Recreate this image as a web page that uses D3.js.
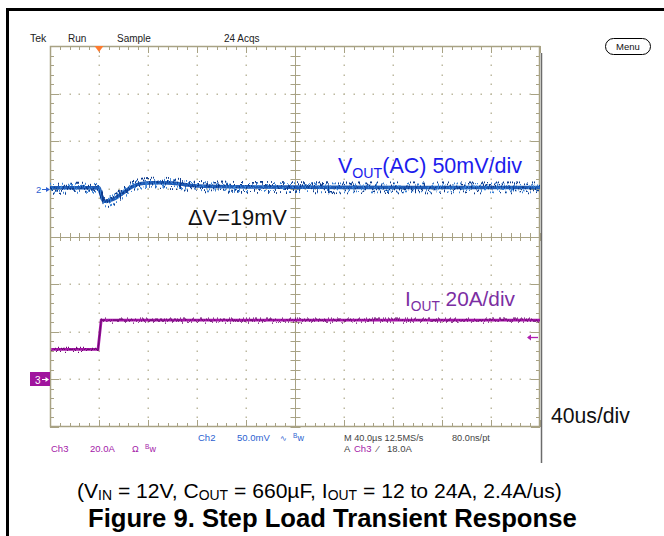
<!DOCTYPE html>
<html>
<head>
<meta charset="utf-8">
<script src="https://cdn.jsdelivr.net/npm/d3@7"></script>
<style>
  html, body { margin: 0; padding: 0; background: #fff; }
  svg { display: block; }
  text { font-family: "Liberation Sans", Arial, Helvetica, sans-serif; }
</style>
</head>
<body>
<svg id="chart" width="664" height="536"></svg>
<script>
// Channel 2: output voltage deviation (AC coupled), mV, against time in µs
const voutTimeUs = [-40, -20, 0, 1, 2.5, 4, 6, 9, 13, 17, 21, 25, 31, 38, 44, 52, 60, 70, 82, 95, 110, 130, 160, 200, 260, 320, 360];
const voutMv     = [1.2, 1.2, 1.0, -3, -9, -13, -13, -12, -10, -6.5, -3, 0.8, 4.5, 6, 6.5, 6.5, 6, 4.5, 3, 2.5, 2.2, 2, 1.8, 1.6, 1.5, 1.5, 1.5];

// Channel 3: load current, A, against time in µs
const ioutTimeUs = [-39, -0.8, 1.8, 360];
const ioutA      = [12.6, 12.6, 24.9, 24.9];

// Scope settings
const timePerDivUs = 40;
const ch2MvPerDiv = 50;
const ch3APerDiv = 20;
const triggerTimeUs = 0;
const triggerLevelA = 18;

// Readout text
const headerLabels = ["Tek", "Run", "Sample", "24 Acqs"];
const ch2Readout = ["Ch2", "50.0mV"];
const ch3Readout = ["Ch3", "20.0A"];
const timeReadout = ["M 40.0µs 12.5MS/s", "80.0ns/pt"];
const triggerReadout = ["A", "Ch3", "⁄", "18.0A"];

const svg = d3.select("#chart");
const W = 664, H = 536;
const L = 50, R = 540, T = 46, B = 427;

const gx = d3.scaleLinear([0, 10], [L, R]);
const gy = d3.scaleLinear([0, 8], [T, B]);
const x = d3.scaleLinear([-timePerDivUs, 9 * timePerDivUs], [L, R]);
const y2 = d3.scaleLinear([-5 * ch2MvPerDiv, 3 * ch2MvPerDiv], [B, T]);
const y3 = d3.scaleLinear([-1 * ch3APerDiv, 7 * ch3APerDiv], [B, T]);

const px = v => Math.round(v) + 0.5;

const frameCol = "#a8a284";
const dotCol = "#bdb9a0";

// page border
svg.append("rect").attr("x", 0).attr("y", 0).attr("width", W).attr("height", H).attr("fill", "#fff");
svg.append("line").attr("x1", 6).attr("x2", W).attr("y1", 9.5).attr("y2", 9.5)
  .attr("stroke", "#000").attr("stroke-width", 3);
svg.append("line").attr("x1", 7.5).attr("x2", 7.5).attr("y1", 8).attr("y2", H)
  .attr("stroke", "#000").attr("stroke-width", 3);

// filters giving the traces their noisy persistence look
const defs = svg.append("defs");
function noiseFilter(id, freq, seed, scale) {
  const f = defs.append("filter").attr("id", id)
    .attr("filterUnits", "userSpaceOnUse")
    .attr("x", L - 5).attr("y", T).attr("width", R - L + 10).attr("height", B - T)
    .attr("color-interpolation-filters", "sRGB");
  f.append("feTurbulence").attr("type", "fractalNoise").attr("baseFrequency", freq)
    .attr("numOctaves", 2).attr("seed", seed).attr("result", "turb");
  f.append("feColorMatrix").attr("in", "turb").attr("type", "matrix")
    .attr("values", "3 0 0 0 -1  0 0 0 0 0.5  0 0 0 0 0.5  0 0 0 0 1").attr("result", "map");
  f.append("feDisplacementMap").attr("in", "SourceGraphic").attr("in2", "map")
    .attr("scale", scale).attr("xChannelSelector", "G").attr("yChannelSelector", "R");
}
noiseFilter("noiseA", "0.7 0.03", 4, 11);
noiseFilter("noiseB", "0.9 0.05", 11, 9);
noiseFilter("noiseC", "0.6 0.04", 7, 5);

// graticule
const grat = svg.append("g");
const minor = d3.range(0, 10.001, 0.2);
const minorY = d3.range(0, 8.001, 0.2);

// dotted division lines
for (let i = 1; i < 10; i++) {
  if (i === 5) continue;
  minorY.forEach(v => {
    if (v < 0.1 || v > 7.9) return;
    grat.append("rect").attr("x", Math.round(gx(i)) - 0.5).attr("y", Math.round(gy(v)) - 0.5)
      .attr("width", 1.5).attr("height", 1.5).attr("fill", dotCol);
  });
}
for (let j = 1; j < 8; j++) {
  if (j === 4) continue;
  minor.forEach(v => {
    if (v < 0.1 || v > 9.9) return;
    grat.append("rect").attr("x", Math.round(gx(v)) - 0.5).attr("y", Math.round(gy(j)) - 0.5)
      .attr("width", 1.5).attr("height", 1.5).attr("fill", dotCol);
  });
}

// centre cross with ticks
grat.append("line").attr("x1", L).attr("x2", R).attr("y1", px(gy(4))).attr("y2", px(gy(4)))
  .attr("stroke", frameCol);
grat.append("line").attr("y1", T).attr("y2", B).attr("x1", px(gx(5))).attr("x2", px(gx(5)))
  .attr("stroke", frameCol);
minor.forEach(v => {
  grat.append("line").attr("x1", px(gx(v))).attr("x2", px(gx(v)))
    .attr("y1", gy(4) - 3.5).attr("y2", gy(4) + 4.5).attr("stroke", frameCol);
});
minorY.forEach(v => {
  grat.append("line").attr("y1", px(gy(v))).attr("y2", px(gy(v)))
    .attr("x1", gx(5) - 4.5).attr("x2", gx(5) + 5.5).attr("stroke", frameCol);
});

// edge ticks
minor.forEach(v => {
  const isMajor = Math.abs(v - Math.round(v)) < 1e-6;
  const len = isMajor ? 7 : 4;
  grat.append("line").attr("x1", px(gx(v))).attr("x2", px(gx(v)))
    .attr("y1", T).attr("y2", T + len).attr("stroke", frameCol);
  grat.append("line").attr("x1", px(gx(v))).attr("x2", px(gx(v)))
    .attr("y1", B).attr("y2", B - len).attr("stroke", frameCol);
});
minorY.forEach(v => {
  const isMajor = Math.abs(v - Math.round(v)) < 1e-6;
  const len = isMajor ? 9 : 4;
  grat.append("line").attr("y1", px(gy(v))).attr("y2", px(gy(v)))
    .attr("x1", L).attr("x2", L + len).attr("stroke", frameCol);
  grat.append("line").attr("y1", px(gy(v))).attr("y2", px(gy(v)))
    .attr("x1", R).attr("x2", R - len).attr("stroke", frameCol);
});

// frame
grat.append("rect").attr("x", L + 0.5).attr("y", T + 0.5).attr("width", R - L - 1).attr("height", B - T - 1)
  .attr("fill", "none").attr("stroke", frameCol).attr("stroke-width", 1.5);
// dark separator on the right
svg.append("line").attr("x1", R + 1.5).attr("x2", R + 1.5).attr("y1", 53).attr("y2", 463)
  .attr("stroke", "#6b6b6b").attr("stroke-width", 1.5);

// traces
const voutPts = voutTimeUs.map((t, i) => [x(t), y2(voutMv[i])]);
const ioutPts = ioutTimeUs.map((t, i) => [x(t), y3(ioutA[i])]);
const lineGen = d3.line().curve(d3.curveMonotoneX);
const stepGen = d3.line();

const traces = svg.append("g");
traces.append("path").attr("d", lineGen(voutPts)).attr("fill", "none")
  .attr("stroke", "#1f5cb6").attr("stroke-width", 3.6);
traces.append("path").attr("d", lineGen(voutPts)).attr("fill", "none")
  .attr("stroke", "#3a82d6").attr("stroke-width", 1.8).attr("filter", "url(#noiseB)");
traces.append("path").attr("d", lineGen(voutPts)).attr("fill", "none")
  .attr("stroke", "#0c3a8c").attr("stroke-width", 1.8).attr("filter", "url(#noiseA)");

traces.append("path").attr("d", stepGen(ioutPts)).attr("fill", "none")
  .attr("stroke", "#a514a8").attr("stroke-width", 2.8);
traces.append("path").attr("d", stepGen(ioutPts)).attr("fill", "none")
  .attr("stroke", "#6e0c72").attr("stroke-width", 1.2).attr("filter", "url(#noiseC)");

// trigger position marker
const tx = x(triggerTimeUs);
svg.append("path").attr("d", `M${tx - 4.5},${T} L${tx + 4.5},${T} L${tx},${T + 6} Z`)
  .attr("fill", "#ff7b2e");

// trigger level marker on the right edge
const ty = px(y3(triggerLevelA));
svg.append("line").attr("x1", R - 12).attr("x2", R - 2).attr("y1", ty).attr("y2", ty)
  .attr("stroke", "#b020b0").attr("stroke-width", 1.3);
svg.append("path").attr("d", `M${R - 13},${ty} L${R - 9},${ty - 3} L${R - 9},${ty + 3} Z`).attr("fill", "#b020b0");

// channel ground markers
const g2 = px(y2(0));
svg.append("text").attr("x", 36).attr("y", g2 + 3.5).attr("font-size", 9.5).attr("fill", "#2d5fd0").text("2");
svg.append("line").attr("x1", 42).attr("x2", 49).attr("y1", g2).attr("y2", g2).attr("stroke", "#2d5fd0");
svg.append("path").attr("d", `M${50},${g2} L${46},${g2 - 2.5} L${46},${g2 + 2.5} Z`).attr("fill", "#2d5fd0");

const g3 = px(y3(0));
svg.append("rect").attr("x", 30).attr("y", g3 - 7.5).attr("width", 20).attr("height", 14).attr("fill", "#a0149e");
svg.append("text").attr("x", 35).attr("y", g3 + 4).attr("font-size", 10).attr("fill", "#fff").text("3");
svg.append("line").attr("x1", 42).attr("x2", 48).attr("y1", g3).attr("y2", g3).attr("stroke", "#fff");
svg.append("path").attr("d", `M${49},${g3} L${45.5},${g3 - 2.5} L${45.5},${g3 + 2.5} Z`).attr("fill", "#fff");

// header readouts
const headerX = [30, 68, 117, 224];
headerLabels.forEach((s, i) => {
  svg.append("text").attr("x", headerX[i]).attr("y", 42).attr("font-size", i === 0 ? 10.5 : 10)
    .attr("fill", "#222").text(s);
});

// menu button
svg.append("rect").attr("x", 605.5).attr("y", 38.5).attr("width", 45).attr("height", 16).attr("rx", 8)
  .attr("fill", "none").attr("stroke", "#000");
svg.append("text").attr("x", 628).attr("y", 50).attr("text-anchor", "middle").attr("font-size", 9.5)
  .attr("fill", "#111").text("Menu");

// bottom readouts
function small(xp, yp, s, col, size) {
  return svg.append("text").attr("x", xp).attr("y", yp).attr("font-size", size || 9.5).attr("fill", col).text(s);
}
const blue = "#2d5fd0", purple = "#a320a8", grey = "#444";
small(198, 441, ch2Readout[0], blue);
small(237, 441, ch2Readout[1], blue);
small(280, 441, "∿", blue, 8);
small(293, 438, "B", blue, 6.5);
small(297.5, 441, "w", blue, 9);

small(51, 452, ch3Readout[0], purple);
small(90, 452, ch3Readout[1], purple);
small(132, 452, "Ω", purple, 9);
small(145, 449, "B", purple, 6.5);
small(149.5, 452, "w", purple, 9);

small(344, 441, timeReadout[0], grey, 9.2);
small(452, 441, timeReadout[1], grey, 9.2);
small(344, 452, triggerReadout[0], grey);
small(354, 452, triggerReadout[1], purple);
small(377, 452, triggerReadout[2], grey);
small(387, 452, triggerReadout[3], grey);

// text with subscripts, scaled so that it spans the given width
function richFit(xp, yp, parts, width, fill, weight, subDy) {
  const base = 20, subRatio = 0.66;
  const drop = subDy === undefined ? 0.25 : subDy;
  const t = svg.append("text").attr("x", xp).attr("y", yp)
    .attr("fill", fill).attr("font-weight", weight || "normal");
  const build = size => {
    t.selectAll("tspan").remove();
    t.attr("font-size", size);
    let shifted = false;
    parts.forEach(p => {
      if (typeof p === "string") {
        t.append("tspan").attr("dy", shifted ? -drop * size : 0).text(p);
        shifted = false;
      } else {
        t.append("tspan").attr("font-size", size * subRatio).attr("dy", drop * size).text(p.sub);
        shifted = true;
      }
    });
  };
  build(base);
  const w = t.node().getComputedTextLength();
  build(base * width / w);
  return t;
}

richFit(338, 173, ["V", { sub: "OUT" }, "(AC) 50mV/div"], 184, "#1c1ced");
richFit(405, 306, ["I", { sub: "OUT" }, " 20A/div"], 110, "#7b2ea3");
richFit(188, 225, ["ΔV=19mV"], 99, "#111");
richFit(551, 423, ["40us/div"], 79, "#111");

richFit(77, 498, ["(V", { sub: "IN" }, " = 12V, C", { sub: "OUT" }, " = 660µF, I", { sub: "OUT" }, " = 12 to 24A, 2.4A/us)"],
  485, "#000", "normal", 0.1);
richFit(88, 527, ["Figure 9. Step Load Transient Response"], 489, "#000", "bold");
</script>
</body>
</html>
